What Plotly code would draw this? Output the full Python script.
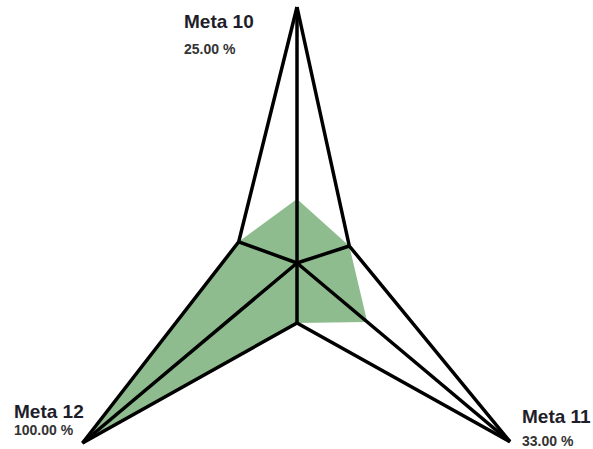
import math
import plotly.graph_objects as go

# Goals and their achievement (percent)
categories = ["Meta 10", "Meta 11", "Meta 12"]
values = [25.0, 33.0, 100.0]

# Star frame geometry (units = pixels, origin at the star centre)
axis_angles = [90.0, -40.0, 220.0]        # direction of each goal spoke
axis_lengths = [256.0, 278.0, 280.0]      # spoke length = 100 %
inner_angles = [18.0, 270.0, 160.0]       # notch between spoke i and i+1
inner_radii = [55.0, 60.0, 62.0]

W, H = 593, 449
CX, CY = 297, 263  # centre position in the page


def polar(angle, r):
    a = math.radians(angle)
    return r * math.cos(a), r * math.sin(a)


outer = [polar(a, l) for a, l in zip(axis_angles, axis_lengths)]
inner = [polar(a, r) for a, r in zip(inner_angles, inner_radii)]
value_pts = [polar(a, l * v / 100.0) for a, l, v in zip(axis_angles, axis_lengths, values)]

# Filled achievement area: value points joined through the notches
fx, fy = [], []
for i in range(3):
    fx += [value_pts[i][0], inner[i][0]]
    fy += [value_pts[i][1], inner[i][1]]
fx.append(fx[0])
fy.append(fy[0])

# Frame: star outline plus spokes to tips and notches
lx, ly = [], []
for i in range(3):
    lx += [outer[i][0], inner[i][0]]
    ly += [outer[i][1], inner[i][1]]
lx += [outer[0][0], None]
ly += [outer[0][1], None]
for p in outer + inner:
    lx += [0, p[0], None]
    ly += [0, p[1], None]

fig = go.Figure()
fig.add_trace(go.Scatter(x=fx, y=fy, mode="lines", fill="toself",
                         fillcolor="rgb(143,188,143)", line=dict(width=0),
                         hoverinfo="skip"))
fig.add_trace(go.Scatter(x=lx, y=ly, mode="lines",
                         line=dict(color="black", width=3.5), hoverinfo="skip"))

# Label positions (page pixels: left edge, vertical centre of title / value)
label_pos = [(182, 21, 49), (520, 416, 441), (12, 411, 430)]
font_family = "Liberation Sans, Arial, sans-serif"
for name, v, (lx0, ty, vy) in zip(categories, values, label_pos):
    fig.add_annotation(x=lx0 / W, y=1 - ty / H, xref="paper", yref="paper",
                       text=f"<b>{name}</b>", showarrow=False,
                       xanchor="left", yanchor="middle",
                       font=dict(family=font_family, size=19, color="#1e1e2a"))
    fig.add_annotation(x=lx0 / W, y=1 - vy / H, xref="paper", yref="paper",
                       text=f"<b>{v:.2f} %</b>", showarrow=False,
                       xanchor="left", yanchor="middle",
                       font=dict(family=font_family, size=14, color="#333333"))

fig.update_layout(
    width=W, height=H, margin=dict(l=0, r=0, t=0, b=0),
    paper_bgcolor="white", plot_bgcolor="white", showlegend=False,
    xaxis=dict(range=[-CX, W - CX], visible=False, fixedrange=True),
    yaxis=dict(range=[-(H - CY), CY], visible=False, fixedrange=True),
)

fig.write_html("out.html", config={"displayModeBar": False})
